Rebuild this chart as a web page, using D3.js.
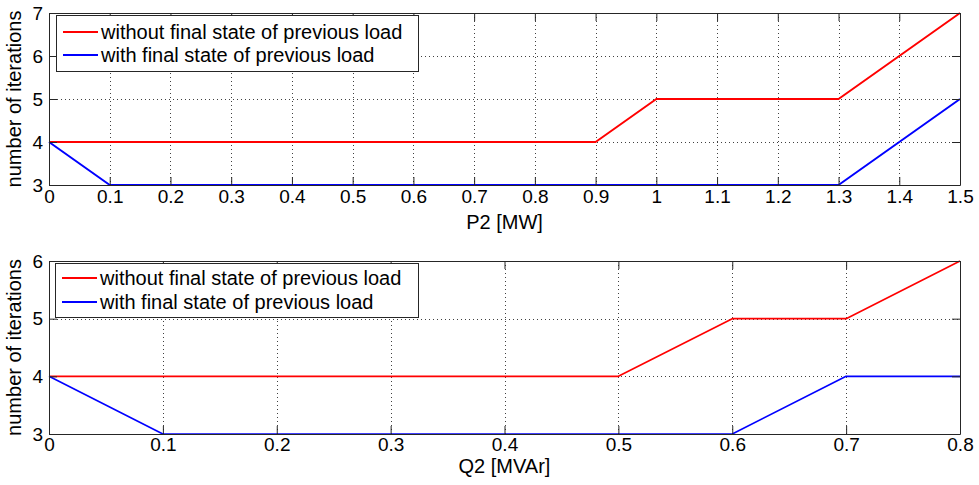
<!DOCTYPE html>
<html>
<head>
<meta charset="utf-8">
<script src="https://cdn.jsdelivr.net/npm/d3@7"></script>
<style>
  body { margin: 0; background: #fff; }
  svg { display: block; font-family: "Liberation Sans", Arial, sans-serif; }
</style>
</head>
<body>
<svg id="chart" width="979" height="485"></svg>
<script>
// Active-power sweep (MW) and iteration counts
const pValues = [0, 0.1, 0.2, 0.3, 0.4, 0.5, 0.6, 0.7, 0.8, 0.9, 1.0, 1.1, 1.2, 1.3, 1.4, 1.5];
const pWithout = [4, 4, 4, 4, 4, 4, 4, 4, 4, 4, 5, 5, 5, 5, 6, 7];
const pWith    = [4, 3, 3, 3, 3, 3, 3, 3, 3, 3, 3, 3, 3, 3, 4, 5];
const pTicks = [0, 0.1, 0.2, 0.3, 0.4, 0.5, 0.6, 0.7, 0.8, 0.9, 1, 1.1, 1.2, 1.3, 1.4, 1.5];
const pYTicks = [3, 4, 5, 6, 7];

// Reactive-power sweep (MVAr) and iteration counts
const qValues = [0, 0.1, 0.2, 0.3, 0.4, 0.5, 0.6, 0.7, 0.8];
const qWithout = [4, 4, 4, 4, 4, 4, 5, 5, 6];
const qWith    = [4, 3, 3, 3, 3, 3, 3, 4, 4];
const qTicks = [0, 0.1, 0.2, 0.3, 0.4, 0.5, 0.6, 0.7, 0.8];
const qYTicks = [3, 4, 5, 6];

const seriesNames = ["without final state of previous load", "with final state of previous load"];
const seriesColors = ["#ff0000", "#0000ff"];

const svg = d3.select("#chart");

function panel(opts) {
  const { left, right, top, bottom, xDomain, yDomain, xs, ys, xTicks, yTicks,
          xLabel, xLabelY, tickPad, lineWidth, legendBox, legendRows } = opts;
  const x = d3.scaleLinear().domain(xDomain).range([left, right]);
  const y = d3.scaleLinear().domain(yDomain).range([bottom, top]);
  const g = svg.append("g");
  const axisColor = "#262626";

  // dotted grid
  const grid = g.append("g").attr("stroke", "#404040").attr("stroke-width", 1)
    .attr("stroke-dasharray", "1,3");
  xTicks.slice(1, -1).forEach(t => {
    grid.append("line").attr("x1", Math.round(x(t)) + 0.5).attr("x2", Math.round(x(t)) + 0.5)
      .attr("y1", top).attr("y2", bottom);
  });
  yTicks.slice(1, -1).forEach(t => {
    grid.append("line").attr("y1", Math.round(y(t)) + 0.5).attr("y2", Math.round(y(t)) + 0.5)
      .attr("x1", left).attr("x2", right);
  });

  // data lines
  const line = d3.line().x(d => x(d[0])).y(d => y(d[1]));
  ys.forEach((vals, i) => {
    g.append("path").datum(xs.map((v, k) => [v, vals[k]]))
      .attr("d", line).attr("fill", "none")
      .attr("stroke", seriesColors[i]).attr("stroke-width", lineWidth)
      .attr("stroke-linejoin", "round");
  });

  // axes with inward ticks on all four sides
  const tickLen = 8;
  const bottomAxis = d3.axisBottom(x).tickValues(xTicks).tickSizeInner(-tickLen).tickSizeOuter(0)
    .tickPadding(tickPad).tickFormat(d3.format("~g"));
  const topAxis = d3.axisTop(x).tickValues(xTicks).tickSizeInner(-tickLen).tickSizeOuter(0).tickFormat("");
  const leftAxis = d3.axisLeft(y).tickValues(yTicks).tickSizeInner(-tickLen).tickSizeOuter(0)
    .tickPadding(6).tickFormat(d3.format("d"));
  const rightAxis = d3.axisRight(y).tickValues(yTicks).tickSizeInner(-tickLen).tickSizeOuter(0).tickFormat("");

  const styleAxis = sel => {
    sel.selectAll("path").attr("stroke", axisColor).attr("stroke-width", 1);
    sel.selectAll("line").attr("stroke", axisColor).attr("stroke-width", 1);
    sel.selectAll("text").attr("fill", "#000").style("font-size", "19px")
      .style("font-family", "'Liberation Sans', Arial, sans-serif");
  };
  g.append("g").attr("transform", `translate(0,${bottom})`).call(bottomAxis).call(styleAxis);
  g.append("g").attr("transform", `translate(0,${top})`).call(topAxis).call(styleAxis);
  g.append("g").attr("transform", `translate(${left},0)`).call(leftAxis).call(styleAxis);
  g.append("g").attr("transform", `translate(${right},0)`).call(rightAxis).call(styleAxis);

  // x-axis label
  g.append("text").attr("x", (left + right) / 2).attr("y", xLabelY)
    .attr("text-anchor", "middle").style("font-size", "20px").text(xLabel);
  // y-axis label
  g.append("text").attr("transform", `translate(${left - 28},${(top + bottom) / 2}) rotate(-90)`)
    .attr("text-anchor", "middle").style("font-size", "20px").text("number of iterations");

  // legend
  const lg = g.append("g");
  lg.append("rect").attr("x", legendBox.x + 0.5).attr("y", legendBox.y + 0.5)
    .attr("width", legendBox.w).attr("height", legendBox.h)
    .attr("fill", "#fff").attr("stroke", axisColor).attr("stroke-width", 1);
  seriesNames.forEach((name, i) => {
    const ry = legendRows[i];
    lg.append("line").attr("x1", legendBox.x + 7).attr("x2", legendBox.x + 42)
      .attr("y1", ry).attr("y2", ry).attr("stroke", seriesColors[i]).attr("stroke-width", 2);
    lg.append("text").attr("x", legendBox.x + 45).attr("y", ry + 7)
      .style("font-size", "20px").text(name);
  });
}

panel({
  left: 49, right: 960, top: 13, bottom: 185,
  xDomain: [0, 1.5], yDomain: [3, 7],
  xs: pValues, ys: [pWithout, pWith],
  xTicks: pTicks, yTicks: pYTicks, xLabel: "P2 [MW]", xLabelY: 229, tickPad: 5, lineWidth: 2,
  legendBox: { x: 56, y: 15, w: 362, h: 56 }, legendRows: [32, 55]
});

panel({
  left: 49, right: 960, top: 261, bottom: 434,
  xDomain: [0, 0.8], yDomain: [3, 6],
  xs: qValues, ys: [qWithout, qWith],
  xTicks: qTicks, yTicks: qYTicks, xLabel: "Q2 [MVAr]", xLabelY: 473, tickPad: 3, lineWidth: 1.6,
  legendBox: { x: 55, y: 263, w: 363, h: 54 }, legendRows: [278, 302]
});
</script>
</body>
</html>
